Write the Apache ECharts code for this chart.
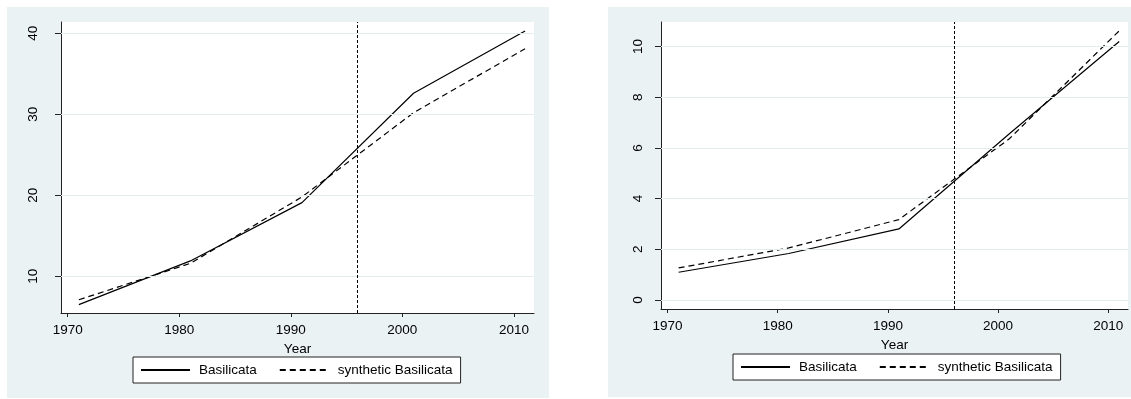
<!DOCTYPE html>
<html>
<head>
<meta charset="utf-8">
<style>
  html, body { margin: 0; padding: 0; background: #ffffff; }
  #chart { width: 1131px; height: 399px; }
</style>
<script src="https://cdn.jsdelivr.net/npm/echarts@6/dist/echarts.min.js"></script>
</head>
<body>
<div id="chart"></div>
<script>
// Census years and series values
const years = [1971, 1981, 1991, 2001, 2011];
const treatmentYear = 1996;
const seriesNames = ['Basilicata', 'synthetic Basilicata'];

// Left panel
const basilicataLeft = [6.5, 11.9, 19.1, 32.6, 40.3];
const syntheticLeft = [7.1, 11.6, 19.8, 30.2, 38.1];
const yTicksLeft = [10, 20, 30, 40];

// Right panel
const basilicataRight = [1.09, 1.83, 2.80, 6.55, 10.2];
const syntheticRight = [1.26, 2.05, 3.17, 6.35, 10.62];
const yTicksRight = [0, 2, 4, 6, 8, 10];

const xTicks = [1970, 1980, 1990, 2000, 2010];

const FONT = '"Liberation Sans", Arial, Helvetica, sans-serif';
const FONT_SIZE = 13.5;
const PANEL_BG = '#eaf2f3';
const GRID_LINE = '#e4ecee';
const INK = '#000000';

const pairs = (xs, ys) => xs.map((x, i) => [x, ys[i]]);
const plain = v => String(v);

function xAxisFor(gridIndex) {
  return {
    type: 'value', gridIndex: gridIndex,
    min: 1969.4, max: 2011.8,
    name: 'Year', nameLocation: 'middle', nameGap: 21,
    nameTextStyle: { fontFamily: FONT, fontSize: FONT_SIZE, color: INK },
    axisLine: { show: true, onZero: false, lineStyle: { color: '#222', width: 1 } },
    axisTick: { show: true, length: 4, customValues: xTicks, lineStyle: { color: '#222' } },
    axisLabel: { customValues: xTicks, formatter: plain, margin: 10, fontFamily: FONT, fontSize: FONT_SIZE, color: INK },
    splitLine: { show: false }
  };
}

function yAxisFor(gridIndex, min, max, ticks, margin) {
  return {
    type: 'value', gridIndex: gridIndex,
    min: min, max: max,
    axisLine: { show: true, onZero: false, lineStyle: { color: '#222', width: 1 } },
    axisTick: { show: true, length: 6, customValues: ticks, lineStyle: { color: '#222' } },
    axisLabel: { customValues: ticks, formatter: plain, rotate: 90, margin: margin, fontFamily: FONT, fontSize: FONT_SIZE, color: INK },
    splitLine: { show: false }
  };
}

// Light horizontal grid lines plus the dashed treatment-year marker
function guideSeries(idx, ticks) {
  return {
    type: 'line', xAxisIndex: idx, yAxisIndex: idx, data: [], z: 1, silent: true,
    markLine: {
      silent: true, symbol: 'none', animation: false,
      label: { show: false },
      data: ticks.map(v => ({ yAxis: v, lineStyle: { color: GRID_LINE, width: 1, type: 'solid' } }))
        .concat([{ xAxis: treatmentYear, lineStyle: { color: INK, width: 1, type: [3, 2] } }])
    }
  };
}

function lineSeries(idx, name, values, dashed) {
  return {
    type: 'line', name: name, xAxisIndex: idx, yAxisIndex: idx,
    data: pairs(years, values), symbol: 'none', z: 3, animation: false,
    lineStyle: { color: INK, width: 1.2, type: dashed ? [6, 4] : 'solid' },
    itemStyle: { color: INK }
  };
}

function legendFor(left, top) {
  return {
    left: left, top: top, orient: 'horizontal',
    data: seriesNames,
    itemWidth: 49, itemHeight: 10, itemGap: 22,
    padding: [6, 8, 6, 7],
    backgroundColor: '#ffffff', borderColor: '#222', borderWidth: 1, borderRadius: 0,
    itemStyle: { opacity: 0 },
    textStyle: { fontFamily: FONT, fontSize: FONT_SIZE, color: INK, padding: [0, 0, 0, 4] },
    selectedMode: false
  };
}

const option = {
  animation: false,
  backgroundColor: '#ffffff',
  graphic: [
    { type: 'rect', z: -100, shape: { x: 7, y: 7, width: 542, height: 391 }, style: { fill: PANEL_BG } },
    { type: 'rect', z: -100, shape: { x: 608, y: 7, width: 523, height: 390 }, style: { fill: PANEL_BG } }
  ],
  grid: [
    { left: 61, right: 597, top: 22, bottom: 86, show: true, backgroundColor: '#ffffff', borderWidth: 0 },
    { left: 661, right: 3, top: 22, bottom: 90, show: true, backgroundColor: '#ffffff', borderWidth: 0 }
  ],
  xAxis: [xAxisFor(0), xAxisFor(1)],
  yAxis: [
    yAxisFor(0, 5.47, 41.4, yTicksLeft, 21),
    yAxisFor(1, -0.36, 10.97, yTicksRight, 16)
  ],
  legend: [legendFor(133, 357), legendFor(733, 354)],
  series: [
    guideSeries(0, yTicksLeft),
    lineSeries(0, seriesNames[0], basilicataLeft, false),
    lineSeries(0, seriesNames[1], syntheticLeft, true),
    guideSeries(1, yTicksRight),
    lineSeries(1, seriesNames[0], basilicataRight, false),
    lineSeries(1, seriesNames[1], syntheticRight, true)
  ]
};

const chart = echarts.init(document.getElementById('chart'), null, { renderer: 'canvas' });
chart.setOption(option);
</script>
</body>
</html>
